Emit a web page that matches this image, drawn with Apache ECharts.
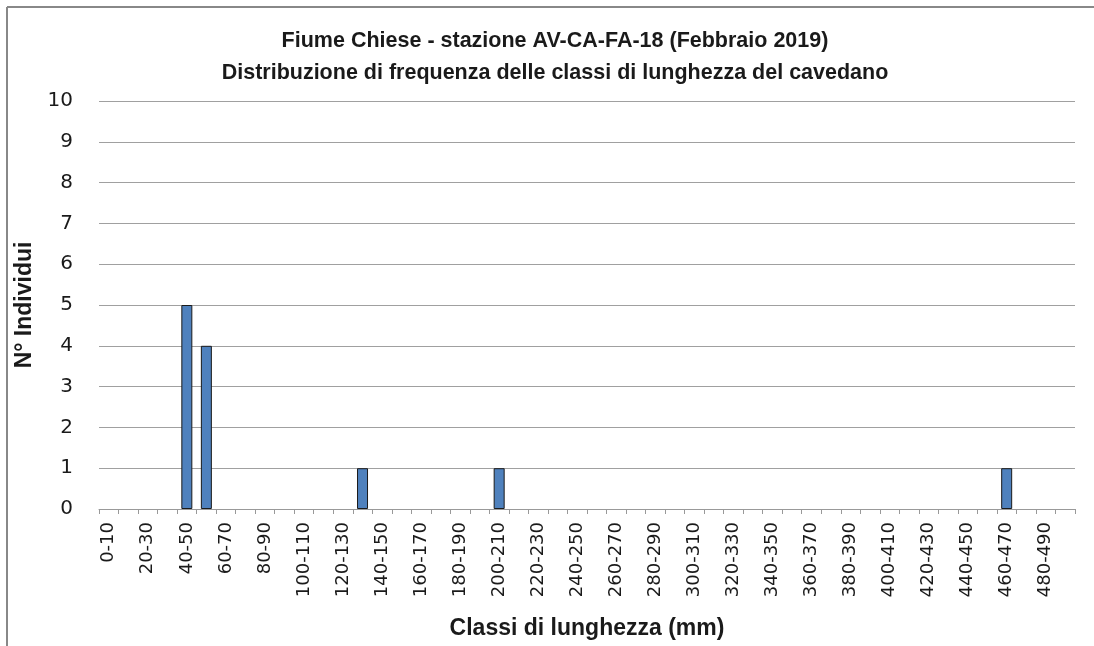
<!DOCTYPE html>
<html>
<head>
<meta charset="utf-8">
<script src="https://cdn.jsdelivr.net/npm/echarts@6/dist/echarts.min.js"></script>
<style>
html,body{margin:0;padding:0;background:#fff;}
#chart{width:1094px;height:646px;}
</style>
</head>
<body>
<div id="chart"></div>
<script>
const titleLines = ['Fiume Chiese - stazione AV-CA-FA-18 (Febbraio 2019)', 'Distribuzione di frequenza delle classi di lunghezza del cavedano'];
const xAxisName = 'Classi di lunghezza (mm)';
const yAxisName = 'N° Individui';
const categories = ['0-10','10-20','20-30','30-40','40-50','50-60','60-70','70-80','80-90','90-100',
  '100-110','110-120','120-130','130-140','140-150','150-160','160-170','170-180','180-190','190-200',
  '200-210','210-220','220-230','230-240','240-250','250-260','260-270','270-280','280-290','290-300',
  '300-310','310-320','320-330','330-340','340-350','350-360','360-370','370-380','380-390','390-400',
  '400-410','410-420','420-430','430-440','440-450','450-460','460-470','470-480','480-490','490-500'];
const counts = [0,0,0,0,5,4,0,0,0,0,
  0,0,0,1,0,0,0,0,0,0,
  1,0,0,0,0,0,0,0,0,0,
  0,0,0,0,0,0,0,0,0,0,
  0,0,0,0,0,0,1,0,0,0];
const yTicks = [0,10,1]; // min, max, interval

const chart = echarts.init(document.getElementById('chart'), null, {renderer:'canvas'});
chart.setOption({
  animation:false,
  backgroundColor:'#fff',
  title:{
    text: titleLines.join('\n'),
    left: 550, top: 20, textAlign:'center',
    textStyle:{fontFamily:'Liberation Sans', fontSize:21.5, fontWeight:'bold', color:'#1a1a1a', lineHeight:32}
  },
  graphic:[
    {type:'line', shape:{x1:7,y1:7,x2:1094,y2:7}, style:{stroke:'#888',lineWidth:2}, silent:true},
    {type:'line', shape:{x1:7,y1:7,x2:7,y2:646}, style:{stroke:'#888',lineWidth:2}, silent:true}
  ],
  grid:{left:99, right:19, top:101, bottom:137, containLabel:false},
  xAxis:{
    type:'category', data:categories, boundaryGap:true,
    name:xAxisName, nameLocation:'middle', nameGap:108,
    nameTextStyle:{fontFamily:'Liberation Sans', fontSize:23, fontWeight:'bold', color:'#1a1a1a'},
    axisLine:{lineStyle:{color:'#999', width:1}},
    axisTick:{show:true, interval:0, length:5, alignWithLabel:false, lineStyle:{color:'#999'}},
    axisLabel:{interval:1, rotate:90, margin:13, fontFamily:'DejaVu Sans', fontSize:18, color:'#1a1a1a'},
    splitLine:{show:false}
  },
  yAxis:{
    type:'value', min:yTicks[0], max:yTicks[1], interval:yTicks[2],
    name:yAxisName, nameLocation:'middle', nameGap:56,
    nameTextStyle:{fontFamily:'Liberation Sans', fontSize:23, fontWeight:'bold', color:'#1a1a1a'},
    axisLine:{show:false}, axisTick:{show:false},
    axisLabel:{margin:26, fontFamily:'DejaVu Sans', fontSize:20, color:'#1a1a1a'},
    splitLine:{lineStyle:{color:'#a0a0a0', width:1}}
  },
  series:[{
    type:'bar', data:counts.map(v => v === 0 ? '-' : v), barWidth:11,
    itemStyle:{color:'#4F81BD', borderColor:'#1a1a1a', borderWidth:1}
  }]
});
</script>
</body>
</html>
